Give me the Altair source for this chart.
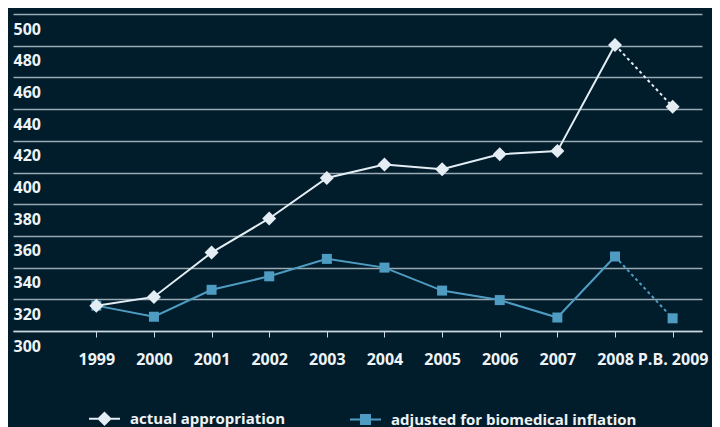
import json
import altair as alt
import pandas as pd

categories = ["1999", "2000", "2001", "2002", "2003", "2004", "2005", "2006", "2007", "2008", "P.B. 2009"]
actual = [316, 321.5, 349.5, 371, 396.5, 405, 402, 411.5, 413.5, 480.5, 441.5]
adjusted = [316, 309, 326, 334.5, 345.5, 340, 325.5, 319.5, 308.5, 347, 308]
series_names = ["actual appropriation", "adjusted for biomedical inflation"]
y_ticks = list(range(300, 501, 20))

BG = "#011d2c"
WHITE = "#e4edf3"
BLUE = "#4f9cc2"
GRID = "#98abb5"
DOMAIN = "#cbd8df"
TEXT = "#eef3f6"
FONT = "Open Sans"

rows = []
for i, c in enumerate(categories):
    rows.append({"idx": i, "cat": c, "value": actual[i], "series": series_names[0]})
    rows.append({"idx": i, "cat": c, "value": adjusted[i], "series": series_names[1]})
df = pd.DataFrame(rows)

last = len(categories) - 1
arr = json.dumps(categories)
nb = "\u00a0" * 2
label_expr = (
    f"datum.value == {last} ? '{nb}' + {arr}[datum.value] : {arr}[datum.value]"
)

x_enc = alt.X(
    "idx:Q",
    scale=alt.Scale(domain=[-1.446, 10.51], nice=False, zero=False),
    axis=alt.Axis(
        values=list(range(len(categories))),
        labelExpr=label_expr,
        title=None,
        grid=False,
        domain=True,
        domainColor=DOMAIN,
        domainWidth=1.5,
        ticks=True,
        tickColor=DOMAIN,
        tickSize=6,
        tickWidth=1,
        labelBaseline="alphabetic",
        labelPadding=27,
        labelFont=FONT,
        labelFontSize=16,
        labelFontWeight="bold",
        labelColor=TEXT,
        labelFlush=False,
        labelOverlap=False,
    ),
)
y_enc = alt.Y(
    "value:Q",
    scale=alt.Scale(domain=[300, 500], nice=False, zero=False),
    axis=alt.Axis(
        values=y_ticks,
        title=None,
        grid=True,
        gridColor=GRID,
        gridWidth=1.5,
        domain=False,
        ticks=False,
        tickSize=0,
        labelAlign="left",
        labelBaseline="alphabetic",
        labelPadding=0,
        labelOffset=20,
        labelFont=FONT,
        labelFontSize=16,
        labelFontWeight="bold",
        labelColor=TEXT,
        labelOverlap=False,
    ),
)

base = alt.Chart(df)


def series_layers(name, color, shape, size):
    d = base.transform_filter(alt.datum.series == name)
    solid = d.transform_filter(alt.datum.idx <= last - 1).mark_line(
        color=color, strokeWidth=2
    ).encode(x=x_enc, y=y_enc)
    dashed = d.transform_filter(alt.datum.idx >= last - 1).mark_line(
        color=color, strokeWidth=2, strokeDash=[3, 3]
    ).encode(x=x_enc, y=y_enc)
    pts = d.mark_point(
        filled=True, shape=shape, size=size, color=color, opacity=1, strokeWidth=0
    ).encode(x=x_enc, y=y_enc)
    return [solid, dashed, pts]


diamond_path = "M-1,0H1M0,-0.38L0.38,0L0,0.38L-0.38,0Z"
square_path = "M-1,0H1M-0.29,-0.29H0.29V0.29H-0.29Z"

leg = alt.Legend(
    title=None,
    orient="none",
    legendX=75,
    legendY=388,
    direction="horizontal",
    symbolSize=961,
    symbolStrokeWidth=2,
    symbolOpacity=1,
    labelOffset=9,
    columnPadding=61,
    padding=0,
    labelFont=FONT,
    labelFontSize=15,
    labelFontWeight="bold",
    labelColor=TEXT,
    labelLimit=400,
)

legend_layer = base.transform_filter("false").mark_point(
    filled=True, opacity=1, strokeWidth=2
).encode(
    shape=alt.Shape("series:N", scale=alt.Scale(domain=series_names, range=[diamond_path, square_path]), legend=leg),
    fill=alt.Fill("series:N", scale=alt.Scale(domain=series_names, range=[WHITE, BLUE]), legend=leg),
    stroke=alt.Stroke("series:N", scale=alt.Scale(domain=series_names, range=[WHITE, BLUE]), legend=leg),
)

layers = (
    series_layers(series_names[1], BLUE, "square", 100)
    + series_layers(series_names[0], WHITE, "diamond", 196)
    + [legend_layer]
)

chart = (
    alt.layer(*layers)
    .properties(
        width=689,
        height=317,
        padding={"left": 5, "top": 6, "right": 10, "bottom": 100},
        autosize=alt.AutoSizeParams(type="none"),
    )
    .configure(background=BG)
    .configure_view(stroke=None)
)

chart.save("out.html", embed_options={"renderer": "svg", "actions": False})
